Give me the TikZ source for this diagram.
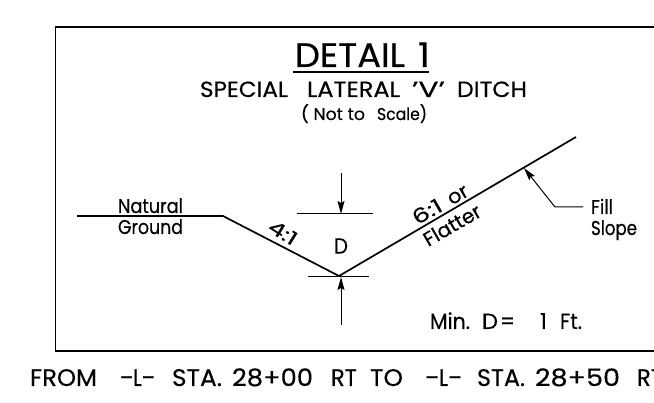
\documentclass[tikz,border=0pt]{standalone}
\usepackage{fontspec}
\usepackage{graphicx}
\setmainfont[FakeBold=0.3]{Poppins}
\usetikzlibrary{arrows.meta}
\newcommand\fitw[2]{\resizebox{#1pt}{\height}{#2}}
\newcommand\gap[1]{\hspace{#1pt}}
\tikzset{
  txt/.style={inner sep=0pt,outer sep=0pt,anchor=base west,text=black},
  ctxt/.style={inner sep=0pt,outer sep=0pt,anchor=center,text=black},
  heavy/.style={line width=1.7pt,black,line join=miter},
  thin line/.style={line width=1pt,black},
  dim/.style={line width=1pt,black,-{Stealth[length=13pt,width=7pt,inset=2pt]}}
}
\begin{document}
\begin{tikzpicture}[x=1pt,y=-1pt]
\useasboundingbox (0,0) rectangle (654,403);
\clip (0,0) rectangle (654,403);
\fill[white] (0,0) rectangle (654,403);
% frame (runs off the right edge)
\coordinate (ftr) at (660,27);
\coordinate (ftl) at (55.5,27);
\coordinate (fbl) at (55.5,351);
\coordinate (fbr) at (660,351);
\draw[heavy] (ftr) -- (ftl) -- (fbl) -- (fbr);
% titles
\node[txt,font=\fontsize{34}{34}\selectfont] (title) at (295,67) {\fitw{110}{DETAIL}\gap{13}\fitw{12}{1}};
\coordinate (ula) at (293,72);
\coordinate (ulb) at (429,72);
\draw[line width=1.7pt] (ula) -- (ulb);
\node[txt,font=\fontsize{22}{22}\selectfont] (sub) at (200,97) {\fitw{88}{SPECIAL}\gap{19}\fitw{93}{LATERAL}\gap{12}\fitw{33}{’V’}\gap{12}\fitw{70}{DITCH}};
\node[txt,font=\fontsize{17}{17}\selectfont] (nts) at (301,120) {\fitw{64}{( Not to}\gap{12}\fitw{50}{Scale)}};
% ground profile
\coordinate (g0) at (77,216);
\coordinate (g1) at (223,216);
\coordinate (g2) at (339,276);
\coordinate (g3) at (576,137);
\draw[heavy] (g0) -- (g1) -- (g2) -- (g3);
% depth dimension
\coordinate (dta) at (297,214);
\coordinate (dtb) at (373,214);
\coordinate (dba) at (308,277);
\coordinate (dbb) at (369,277);
\coordinate (ua) at (341,173);
\coordinate (ub) at (341,214);
\coordinate (la) at (341,325);
\coordinate (lb) at (341,277);
\draw[thin line] (dta) -- (dtb);
\draw[thin line] (dba) -- (dbb);
\draw[dim] (ua) -- (ub);
\draw[dim] (la) -- (lb);
\node[ctxt,font=\fontsize{22}{22}\selectfont] (d) at (341,246) {\fitw{14}{D}};
% fill slope leader
\coordinate (fa) at (583,207);
\coordinate (fb) at (555,207);
\coordinate (fc) at (524,168);
\draw[dim] (fa) -- (fb) -- (fc);
\node[txt,font=\fontsize{20}{20}\selectfont] (fill) at (591,214) {\fitw{22}{Fill}};
\node[txt,font=\fontsize{20}{20}\selectfont] (slope) at (591,235) {\fitw{46}{Slope}};
% labels
\node[txt,font=\fontsize{20}{20}\selectfont] (nat) at (118,213) {\fitw{65}{Natural}};
\node[txt,font=\fontsize{20}{20}\selectfont] (gro) at (118,234) {\fitw{65}{Ground}};
\node[ctxt,rotate=-32,font=\fontsize{19}{19}\selectfont] (r41) at (283,232.5) {\fitw{30}{4:1}};
\node[ctxt,rotate=30,font=\fontsize{20}{20}\selectfont] (r61) at (440,204) {\fitw{31}{6:1}\gap{9}\fitw{21}{or}};
\node[ctxt,rotate=30,font=\fontsize{20}{20}\selectfont] (flat) at (452,225) {\fitw{63}{Flatter}};
\node[txt,font=\fontsize{22}{22}\selectfont] (mind) at (430,329) {\fitw{40}{Min.}\gap{12}\fitw{16}{D}\gap{2}\fitw{15}{=}\gap{25}\fitw{7}{1}\gap{13}\fitw{22}{Ft.}};
% bottom line
\node[txt,font=\fontsize{24}{24}\selectfont] (from) at (30,386) {\fitw{67}{FROM}\gap{23}\fitw{35}{–L–}\gap{17}\fitw{50}{STA.}\gap{10}\fitw{81}{28+00}\gap{18}\fitw{26}{RT}\gap{13}\fitw{33}{TO}\gap{22}\fitw{37}{–L–}\gap{15}\fitw{48}{STA.}\gap{10}\fitw{85}{28+50}\gap{17}\fitw{26}{RT}};
\end{tikzpicture}
\end{document}
